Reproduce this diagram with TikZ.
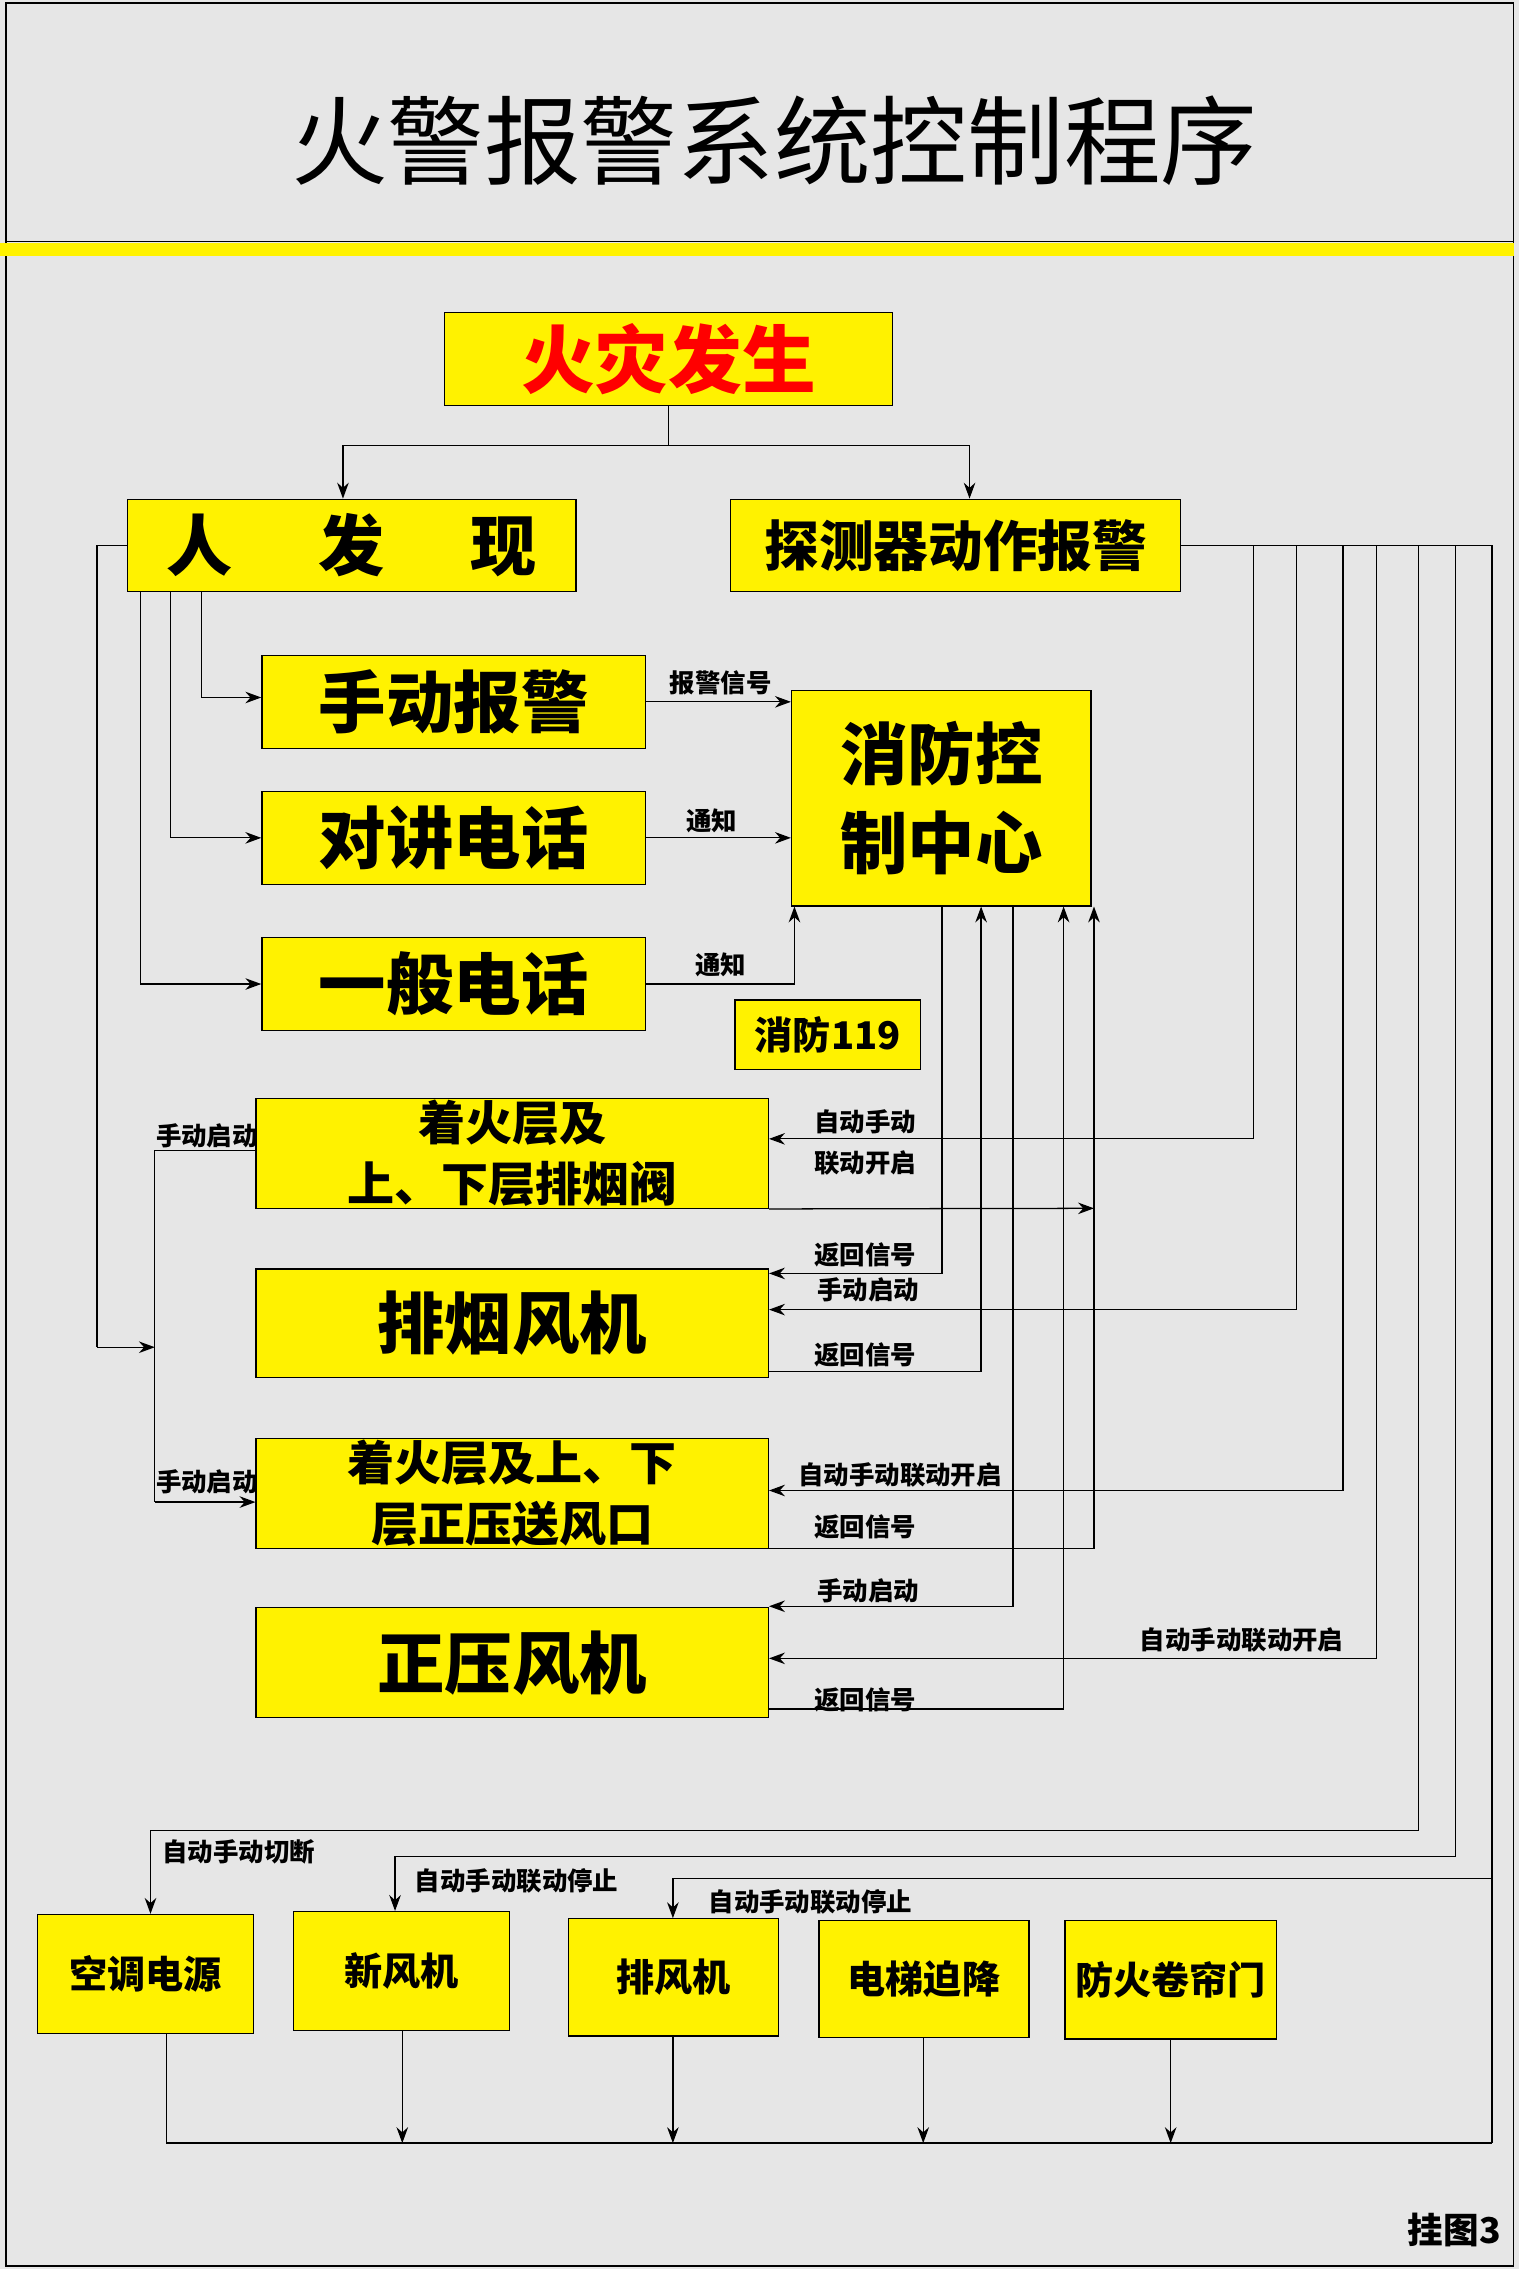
\documentclass[tikz,border=0pt]{standalone}
\usepackage{fontspec}
\setmainfont{Noto Sans CJK SC}
\usetikzlibrary{arrows.meta}
\newcommand\bx[8]{\node[box,font=\bfseries\fontsize{#7}{#8}\selectfont,minimum width={(#4-#2)*0.2mm},minimum height={(#5-#3)*0.2mm}] (#1) at ({(#2+#4)/2},{(#3+#5)/2}) {#6};}
\begin{document}
\begin{tikzpicture}[x=0.2mm,y=-0.2mm,
  box/.style={draw=black,line width=0.5pt,fill=yellow,inner sep=0pt,align=center},
  ln/.style={draw=black,line width=0.5pt},
  ar/.style={ln,-{Stealth[length=2.2mm,width=1.6mm]}},
  lb/.style={font=\bfseries\fontsize{10}{12}\selectfont,inner sep=0pt}]
\fill[fill={rgb,255:red,230;green,230;blue,230}] (0,0) rectangle (1050,1568);
\useasboundingbox (0,0) rectangle (1050,1568);
\draw[line width=0.6pt] (4,2) rectangle (1046,1566);
\draw[line width=0.6pt] (4,167) -- (1046,167);
\fill[yellow] (0,168) rectangle (1046,177);
\node (title) at (535,97) {\fontsize{38}{40}\selectfont 火警报警系统控制程序};
\bx{fire}{307}{216}{617}{280}{\color{red}火灾发生}{29}{34}
\bx{rfx}{88}{345}{398}{409}{人\hspace{1.3em}发\hspace{1.3em}现}{26}{30}
\bx{tcq}{505}{345}{816}{409}{探测器动作报警}{21.5}{26}
\bx{sd}{181}{453}{446}{517}{手动报警}{26.5}{30}
\bx{dj}{181}{547}{446}{611}{对讲电话}{26.5}{30}
\bx{yb}{181}{648}{446}{712}{一般电话}{26.5}{30}
\bx{xf}{547}{477}{754}{626}{消防控\\制中心}{26.5}{35}
\bx{f119}{508}{691}{636}{739}{消防119}{15}{18}
\bx{pyf}{177}{759}{531}{835}{着火层及\\上、下层排烟阀}{18.5}{24}
\bx{pyj}{177}{877}{531}{952}{排烟风机}{26.5}{30}
\bx{zyk}{177}{994}{531}{1070}{着火层及上、下\\层正压送风口}{18.5}{24}
\bx{zyj}{177}{1111}{531}{1187}{正压风机}{26.5}{30}
\bx{kt}{26}{1323}{175}{1405}{空调电源}{15}{18}
\bx{xfj}{203}{1321}{352}{1403}{新风机}{15}{18}
\bx{pfj}{393}{1326}{538}{1407}{排风机}{15}{18}
\bx{dt}{566}{1327}{711}{1408}{电梯迫降}{15}{18}
\bx{fh}{736}{1327}{882}{1409}{防火卷帘门}{15}{18}
\node[font=\bfseries\fontsize{14}{16}\selectfont] (gt) at (1005,1541) {挂图3};
% top split
\draw[ln] (fire.south) -- (462,308) coordinate (sp);
\draw[ar] (sp) -| (rfx.north -| 237,0);
\draw[ar] (sp) -| (tcq.north -| 670,0);
% person found
\draw[ar] (rfx.south -| 139,0) |- (sd.west |- 0,482);
\draw[ar] (rfx.south -| 118,0) |- (dj.west |- 0,579);
\draw[ar] (rfx.south -| 97,0) |- (yb.west |- 0,680);
\draw[ln] (rfx.west |- 0,377) -| (67,931) coordinate (c67);
\draw[ar] (c67) -- (107,931);
\draw[ln] (pyf.west |- 0,795) -| (107,1038);
\draw[ar] (107,1038) -- (zyk.west |- 0,1038);
\node[lb] (l1) at (143,785) {手动启动};
\node[lb] (l2) at (143,1024) {手动启动};
% to control center
\draw[ar] (sd.east |- 0,485) -- (xf.west |- 0,485);
\node[lb] (l3) at (498,472) {报警信号};
\draw[ar] (dj.east |- 0,579) -- (xf.west |- 0,579);
\node[lb] (l4) at (492,567) {通知};
\draw[ar] (yb.east |- 0,680) -| (xf.south -| 549,0);
\node[lb] (l5) at (498,667) {通知};
% detector lines
\draw[ln] (tcq.east |- 0,377) -- (1031,377) -- (1031,1481) coordinate (br);
\draw[ar] (866,377) |- (pyf.east |- 0,787);
\draw[ar] (896,377) |- (pyj.east |- 0,905);
\draw[ar] (928,377) |- (zyk.east |- 0,1030);
\draw[ar] (951,377) |- (zyj.east |- 0,1146);
\draw[ar] (980,377) |- (104,1265) -- (kt.north -| 104,0);
\draw[ar] (1006,377) |- (273,1283) -- (xfj.north -| 273,0);
\draw[ar] (1031,1298) -| (pfj.north -| 465,0);
\node[lb] (l6) at (598,775) {自动手动};
\node[lb] (l7) at (598,804) {联动开启};
\node[lb] (l8) at (598,867) {返回信号};
\node[lb] (l9) at (600,891) {手动启动};
\node[lb] (l10) at (598,936) {返回信号};
\node[lb] (l11) at (622,1019) {自动手动联动开启};
\node[lb] (l12) at (598,1055) {返回信号};
\node[lb] (l13) at (600,1099) {手动启动};
\node[lb] (l14) at (858,1133) {自动手动联动开启};
\node[lb] (l15) at (598,1175) {返回信号};
\node[lb] (l16) at (165,1280) {自动手动切断};
\node[lb] (l17) at (357,1300) {自动手动联动停止};
\node[lb] (l18) at (560,1314) {自动手动联动停止};
% control center lines
\draw[ar] (xf.south -| 651,0) |- (pyj.east |- 0,880);
\draw[ar] (pyj.east |- 0,948) -| (xf.south -| 678,0);
\draw[ar] (xf.south -| 700,0) |- (zyj.east |- 0,1110);
\draw[ar] (zyj.east |- 0,1181) -| (xf.south -| 735,0);
\draw[ar] (zyk.east |- 0,1070) -| (xf.south -| 756,0);
\draw[ar] (pyf.south east) -- (756,835);
% bottom line
\draw[ln] (kt.south -| 115,0) |- (br);
\draw[ar] (xfj.south -| 278,0) -- (278,1481);
\draw[ar] (pfj.south -| 465,0) -- (465,1481);
\draw[ar] (dt.south -| 638,0) -- (638,1481);
\draw[ar] (fh.south -| 809,0) -- (809,1481);
\end{tikzpicture}
\end{document}
